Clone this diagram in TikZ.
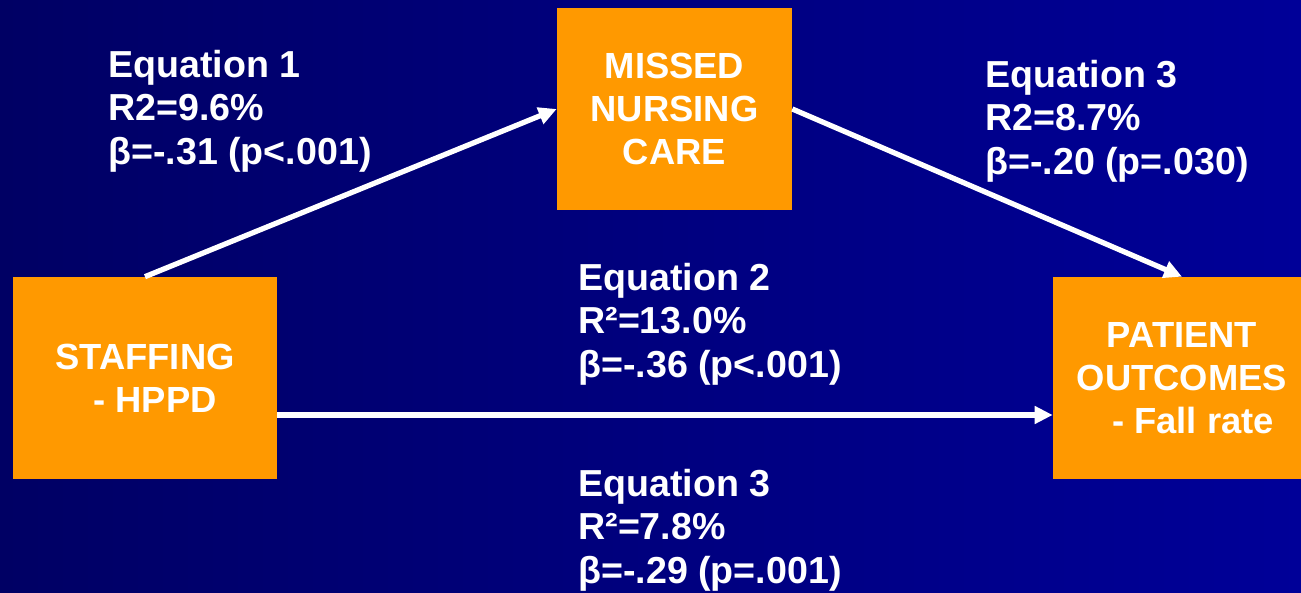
\documentclass[tikz,border=0pt]{standalone}
\usepackage{fontspec}
\setmainfont{Liberation Sans}
\usetikzlibrary{arrows.meta}
\definecolor{bgL}{RGB}{0,0,100}
\definecolor{bgR}{RGB}{0,0,152}
\definecolor{org}{RGB}{255,153,0}
\begin{document}
\begin{tikzpicture}[x=0.02cm,y=-0.02cm,
  txt/.style={text=white},
  box/.style={txt, font=\bfseries\fontsize{20.7}{24.5}\selectfont, fill=org, draw=none, inner sep=0pt, align=center},
  lab/.style={txt, font=\bfseries\fontsize{21.4}{24.7}\selectfont, anchor=base west, inner sep=0pt, align=left},
  arr/.style={draw=white, line width=3pt, -{Triangle[length=0.36cm,width=0.34cm]}}]
\shade[left color=bgL, right color=bgR] (0,0) rectangle (1301,592);
\useasboundingbox (0,0) rectangle (1301,592);
\clip (0,0) rectangle (1301,592);

\node[box, minimum width=5.28cm, minimum height=4.04cm] (staff) at (145,378) {STAFFING\\\hspace*{0.55em}- HPPD};
\node[box, minimum width=4.7cm, minimum height=4.04cm] (missed) at (674.5,109) {MISSED\\NURSING\\CARE};
\node[box, minimum width=5.16cm, minimum height=4.04cm] (patient) at (1182,378) {PATIENT\\OUTCOMES\\\hspace*{0.6em}- Fall rate};

\draw[arr] (staff.north) -- (missed.west);
\draw[arr] (missed.east) -- (patient.north);
\draw[arr] ([yshift=-0.74cm]staff.east) -- ([yshift=-0.74cm]patient.west);

\node[lab] (eq1) at (108,164) {Equation 1\\R2=9.6\%\\β=-.31 (p<.001)};
\node[lab] (eq3a) at (985,174) {Equation 3\\R2=8.7\%\\β=-.20 (p=.030)};
\node[lab] (eq2) at (578,377) {Equation 2\\R²=13.0\%\\β=-.36 (p<.001)};
\node[lab] (eq3b) at (578,583) {Equation 3\\R²=7.8\%\\β=-.29 (p=.001)};
\end{tikzpicture}
\end{document}
